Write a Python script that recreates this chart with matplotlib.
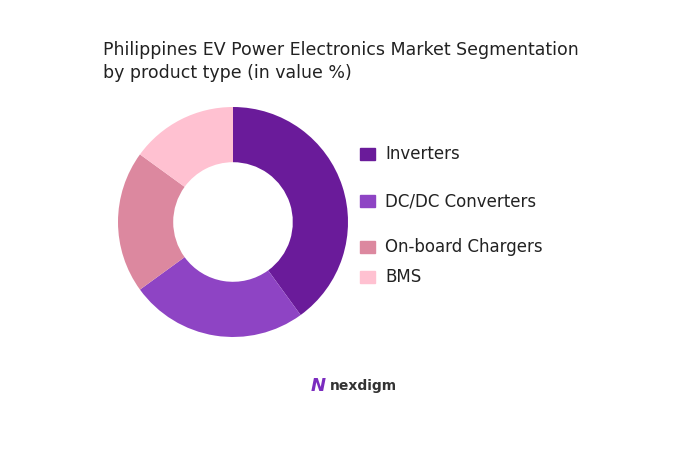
import matplotlib
matplotlib.use('Agg')
import matplotlib.pyplot as plt
from matplotlib.patches import Rectangle

labels = ['Inverters', 'DC/DC Converters', 'On-board Chargers', 'BMS']
values = [40, 25, 20, 15]
colors = ['#6a1b9a', '#8e44c4', '#dc889f', '#ffc1d1']
legend_y = [154, 201, 247, 277]

W, H = 684, 454
fig = plt.figure(figsize=(W / 100, H / 100), dpi=100)
fig.patch.set_facecolor('white')

r = 115
ax = fig.add_axes([(233 - r) / W, 1 - (222 + r) / H, 2 * r / W, 2 * r / H])
ax.pie(values, colors=colors, startangle=90, counterclock=False,
       wedgeprops=dict(width=0.48, edgecolor='none'), radius=1)
ax.set_xlim(-1, 1); ax.set_ylim(-1, 1)
ax.set_aspect('equal')

fig.text(103 / W, 1 - 50 / H, 'Philippines EV Power Electronics Market Segmentation',
         fontsize=12.5, color='#222222', va='center', ha='left')
fig.text(103 / W, 1 - 73 / H, 'by product type (in value %)',
         fontsize=12.5, color='#222222', va='center', ha='left')

for lab, col, y in zip(labels, colors, legend_y):
    fig.patches.append(Rectangle((360 / W, 1 - (y + 6) / H), 15 / W, 12 / H,
                                 transform=fig.transFigure, color=col))
    fig.text(385 / W, 1 - y / H, lab, fontsize=12, color='#222222', va='center', ha='left')

fig.text(318 / W, 1 - 386 / H, 'N', fontsize=13, color='#7b2cbf', fontweight='bold',
         va='center', ha='center', style='italic')
fig.text(330 / W, 1 - 386 / H, 'nexdigm', fontsize=10, color='#333333',
         fontweight='bold', va='center', ha='left')

fig.savefig('out.png', dpi=100)
